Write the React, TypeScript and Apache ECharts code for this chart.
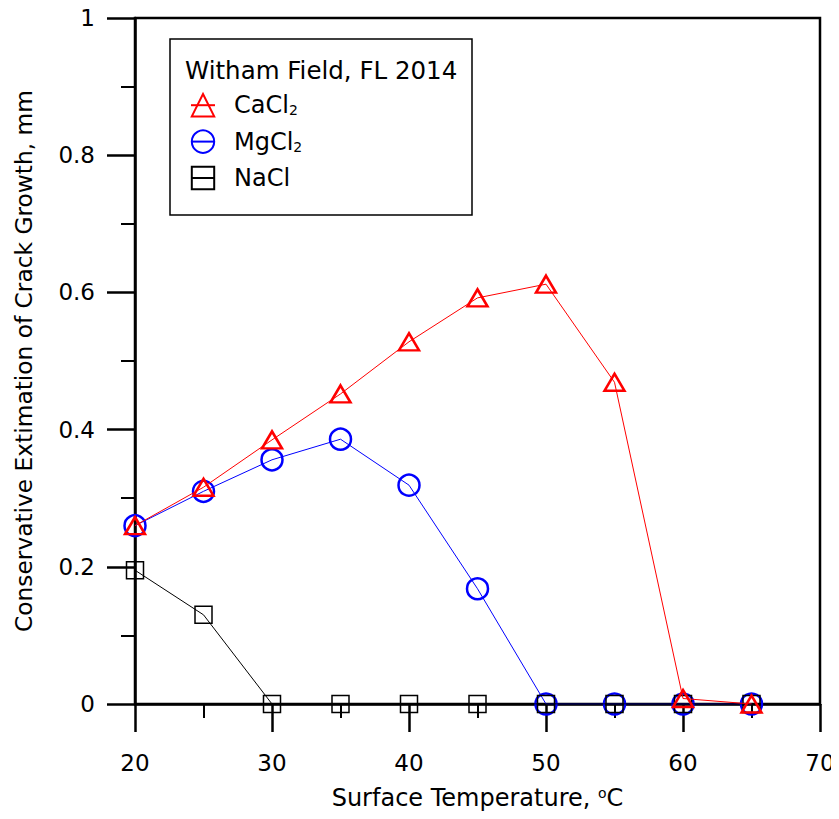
import React, { useEffect, useRef } from "react";
import * as echarts from "echarts";

const temperatures = [20, 25, 30, 35, 40, 45, 50, 55, 60, 65];
const cacl2 = [0.26, 0.316, 0.385, 0.452, 0.528, 0.592, 0.612, 0.469, 0.008, 0.0];
const mgcl2 = [0.26, 0.31, 0.356, 0.386, 0.319, 0.168, 0.0, 0.0, 0.0, 0.0];
const nacl = [0.195, 0.13, 0.0, 0.0, 0.0, 0.0, 0.0, 0.0, 0.0, 0.0];

const FONT = "DejaVu Sans";

export default function App() {
  const ref = useRef<HTMLDivElement>(null);
  useEffect(() => {
    if (!ref.current) return;
    const chart = echarts.init(ref.current, undefined, { renderer: "svg" });
    const toPairs = (ys: number[]) => temperatures.map((t, i) => [t, ys[i]]);
    const axisCommon = {
      axisLine: { show: true, onZero: false, lineStyle: { color: "#000", width: 2.5 } },
      axisTick: { show: true, inside: false, length: 28, lineStyle: { color: "#000", width: 2.5 } },
      minorTick: { show: true, splitNumber: 2, length: 14, lineStyle: { color: "#000", width: 2 } },
      splitLine: { show: false },
    };
    chart.setOption({
      animation: false,
      backgroundColor: "#fff",
      textStyle: { fontFamily: FONT },
      grid: {
        left: 135,
        top: 18,
        right: 19,
        bottom: 115,
        show: true,
        borderColor: "#000",
        borderWidth: 2.5,
      },
      xAxis: {
        type: "value",
        min: 20,
        max: 70,
        interval: 10,
        ...axisCommon,
        axisLabel: { color: "#000", fontSize: 23, fontFamily: FONT, margin: 47 },
        name: "Surface Temperature, {sup|o}C",
        nameLocation: "middle",
        nameGap: 82,
        nameTextStyle: {
          color: "#000",
          fontSize: 24,
          fontFamily: FONT,
          rich: {
            sup: { fontSize: 14, verticalAlign: "top", fontFamily: FONT, color: "#000" },
          },
        },
      },
      yAxis: {
        type: "value",
        min: 0,
        max: 1,
        interval: 0.2,
        ...axisCommon,
        axisLabel: { color: "#000", fontSize: 23, fontFamily: FONT, margin: 40 },
        name: "Conservative Extimation of Crack Growth, mm",
        nameLocation: "middle",
        nameGap: 100,
        nameTextStyle: { color: "#000", fontSize: 23.3, fontFamily: FONT },
      },
      legend: {
        orient: "vertical",
        left: 190,
        top: 93,
        padding: 0,
        itemWidth: 24,
        itemHeight: 28,
        itemGap: 12,
        data: ["CaCl2", "MgCl2", "NaCl"],
        formatter: (name: string) => {
          if (name.endsWith("2")) return "{n|" + name.slice(0, -1) + "}{s|2}";
          return "{n|" + name + "}";
        },
        textStyle: {
          color: "#000",
          fontFamily: FONT,
          fontSize: 24,
          padding: [0, 0, 0, 14],
          rich: {
            n: { fontSize: 24, fontFamily: FONT, color: "#000" },
            s: { fontSize: 14, fontFamily: FONT, color: "#000", verticalAlign: "bottom" },
          },
        },
      },
      graphic: [
        {
          type: "rect",
          shape: { x: 170, y: 39, width: 302, height: 176 },
          style: { fill: "none", stroke: "#000", lineWidth: 1.5 },
          z: 10,
        },
        {
          type: "text",
          x: 185,
          y: 70,
          style: {
            text: "Witham Field, FL 2014",
            fontFamily: FONT,
            fontSize: 24.5,
            fill: "#000",
            verticalAlign: "middle",
          },
          z: 10,
        },
      ],
      series: [
        {
          name: "CaCl2",
          type: "line",
          data: toPairs(cacl2),
          symbol: "triangle",
          symbolSize: [20, 17],
          z: 4,
          lineStyle: { color: "#ff0000", width: 1 },
          itemStyle: { color: "rgba(255,255,255,0)", borderColor: "#ff0000", borderWidth: 2.5 },
        },
        {
          name: "MgCl2",
          type: "line",
          data: toPairs(mgcl2),
          symbol: "circle",
          symbolSize: 21,
          z: 2,
          lineStyle: { color: "#0000ff", width: 1 },
          itemStyle: { color: "rgba(255,255,255,0)", borderColor: "#0000ff", borderWidth: 2.5 },
        },
        {
          name: "NaCl",
          type: "line",
          data: toPairs(nacl),
          symbol: "rect",
          symbolSize: 17,
          z: 3,
          lineStyle: { color: "#000", width: 1 },
          itemStyle: { color: "rgba(255,255,255,0)", borderColor: "#000", borderWidth: 1.5 },
        },
      ],
    });
    return () => chart.dispose();
  }, []);
  return <div ref={ref} style={{ width: 839, height: 819, margin: -8 }} />;
}
